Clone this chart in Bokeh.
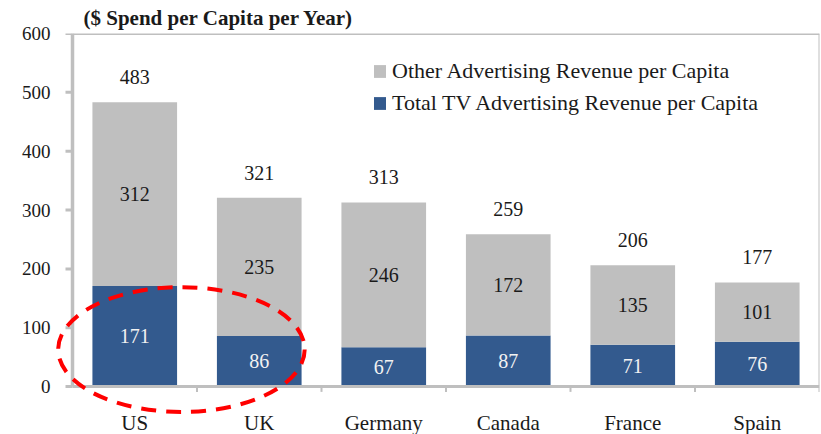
from bokeh.plotting import figure
from bokeh.models import (ColumnDataSource, LinearAxis, SingleIntervalTicker, Range1d,
                          Legend, LegendItem)
from bokeh.core.properties import value
from bokeh.embed import file_html
from bokeh.resources import INLINE

countries = ["US", "UK", "Germany", "Canada", "France", "Spain"]
tv_rev = [171, 86, 67, 87, 71, 76]
other_rev = [312, 235, 246, 172, 135, 101]
y_ticks = [0, 100, 200, 300, 400, 500, 600]
title_text = "($ Spend per Capita per Year)"
legend_other = "Other Advertising Revenue per Capita"
legend_tv = "Total TV Advertising Revenue per Capita"

totals = [a + b for a, b in zip(tv_rev, other_rev)]
xpos = [i + 0.5 for i in range(len(countries))]

FONT = "Liberation Serif"
GRAY = "#BFBFBF"
BLUE = "#335A8E"
TXT = "#1a1a1a"

src = ColumnDataSource(dict(
    x=xpos, cat=countries, tv=tv_rev, other=other_rev, total=totals,
    tv_mid=[t / 2 for t in tv_rev],
    other_mid=[t + o / 2 for t, o in zip(tv_rev, other_rev)],
    tv_s=[str(v) for v in tv_rev], other_s=[str(v) for v in other_rev],
    total_s=[str(v) for v in totals], zero=[0] * len(countries),
    right=[x + 0.5 for x in xpos],
))

LEFT = 54
UNIT = 124.5  # pixels per category
p = figure(width=821, height=434,
           x_range=Range1d(-(72 - LEFT) / UNIT, len(countries)),
           y_range=Range1d(-81.4, 600), output_backend="svg", toolbar_location=None,
           min_border_left=LEFT, min_border_right=2, min_border_top=32, min_border_bottom=0,
           title=title_text)
p.title.text_font = FONT
p.title.text_font_size = "21px"
p.title.text_font_style = "bold"
p.title.text_color = TXT
p.title.align = "left"
p.title.offset = 11 + (72 - LEFT)
p.title.standoff = 7
p.xaxis.visible = False
p.yaxis.visible = False
p.xgrid.visible = False
p.ygrid.visible = False
p.outline_line_color = None
p.background_fill_color = "white"

# y axis: labels from the axis, line and ticks drawn at x=0 inside the frame
yax = LinearAxis(ticker=SingleIntervalTicker(interval=100), bounds=(0, 600))
yax.axis_line_color = None
yax.major_tick_line_color = None
yax.major_tick_out = 0
yax.major_tick_in = 0
yax.minor_tick_line_color = None
yax.major_label_standoff = 0
yax.major_label_text_font = FONT
yax.major_label_text_font_size = "19px"
yax.major_label_text_color = TXT
p.add_layout(yax, "left")

tick_src = ColumnDataSource(dict(y=y_ticks, x0=[0] * len(y_ticks),
                                 x1=[-7 / UNIT] * len(y_ticks)))
p.segment(x0="x0", y0="y", x1="x1", y1="y", source=tick_src,
          line_color=GRAY, line_width=3)
p.segment(x0=0, y0=0, x1=0, y1=600, line_color=GRAY, line_width=3.5)

bars = p.vbar_stack(["tv", "other"], x="x", width=0.68, source=src,
                    color=[BLUE, GRAY], line_color=None)

# top border and right border
p.segment(x0=0, y0=600, x1=len(countries), y1=600, line_color=GRAY, line_width=3)
p.segment(x0=len(countries), y0=0, x1=len(countries), y1=600,
          line_color=GRAY, line_width=2)
# bottom axis line and boundary ticks
p.segment(x0=0, y0=0, x1=len(countries), y1=0, line_color=GRAY, line_width=3)
p.segment(x0="right", y0="zero", x1="right", y1=-9, source=src,
          line_color=GRAY, line_width=2)

# value labels
p.text(x="x", y="tv_mid", text="tv_s", source=src, text_align="center",
       text_baseline="middle", text_color="#F2F2F2", text_font=value(FONT),
       text_font_size="20px")
p.text(x="x", y="other_mid", text="other_s", source=src, text_align="center",
       text_baseline="middle", text_color=TXT, text_font=value(FONT),
       text_font_size="20px")
p.text(x="x", y="total", text="total_s", source=src, text_align="center",
       text_baseline="middle", text_color=TXT, text_font=value(FONT),
       text_font_size="20px", y_offset=-25)
# category labels
p.text(x="x", y="zero", text="cat", source=src, text_align="center",
       text_baseline="middle", text_color=TXT, text_font=value(FONT),
       text_font_size="21px", y_offset=36)

# red dashed ellipse highlighting US and UK
p.ellipse(x=xpos[0] + 0.375, y=63, width=1.98, height=212,
          fill_color=None, line_color="#FF0000", line_width=4, line_dash="15 10")

legend = Legend(items=[LegendItem(label=legend_other, renderers=[bars[1]]),
                       LegendItem(label=legend_tv, renderers=[bars[0]])],
                location=(300 + (72 - LEFT), 318))
legend.glyph_width = 15
legend.glyph_height = 16
legend.label_height = 24
legend.spacing = 6
legend.padding = 0
legend.margin = 0
legend.label_standoff = 5
legend.label_text_font = FONT
legend.label_text_font_size = "22px"
legend.label_text_color = TXT
legend.background_fill_alpha = 0
legend.border_line_color = None
p.add_layout(legend, "center")

open("out.html", "w").write(file_html(p, INLINE))
